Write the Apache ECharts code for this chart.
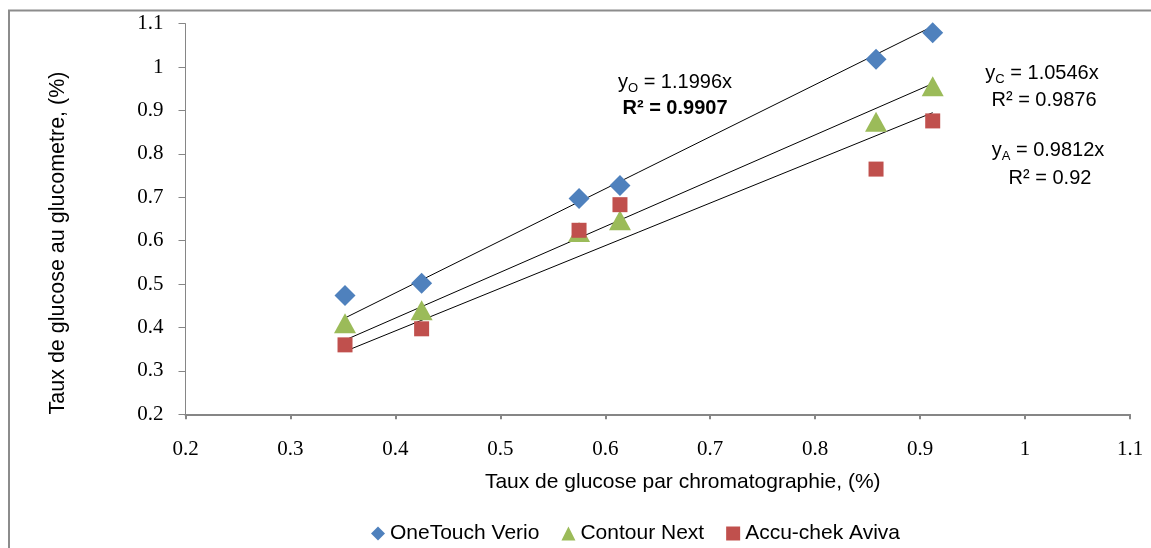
<!DOCTYPE html>
<html>
<head>
<meta charset="utf-8">
<script src="https://cdn.jsdelivr.net/npm/echarts@6/dist/echarts.min.js"></script>
<style>
  html, body { margin: 0; padding: 0; background: #fff; }
  #chart { width: 1151px; height: 548px; }
</style>
</head>
<body>
<div id="chart"></div>
<script>
  // chromatography values (x) shared by the three meters
  const chromX = [0.352, 0.425, 0.575, 0.614, 0.858, 0.912]
  const oneTouch = [0.474, 0.502, 0.697, 0.727, 1.018, 1.079]
  const contour = [0.410, 0.440, 0.620, 0.647, 0.874, 0.956]
  const accuChek = [0.360, 0.397, 0.624, 0.683, 0.765, 0.876]
  // trend line end points
  const trendO = [[0.352, 0.422], [0.912, 1.094]]
  const trendC = [[0.352, 0.371], [0.912, 0.962]]
  const trendA = [[0.352, 0.345], [0.912, 0.895]]
  const seriesNames = ['OneTouch Verio', 'Contour Next', 'Accu-chek Aviva']

  function pairs(ys) {
    return chromX.map((x, i) => [x, ys[i]])
  }

  const chart = echarts.init(document.getElementById('chart'))
  const serif = 'Liberation Serif'
  const sans = 'Liberation Sans'

  function trend(data) {
    return {
      type: 'line',
      data: data,
      showSymbol: false,
      silent: true,
      lineStyle: { color: '#000', width: 1 },
      z: 1,
    }
  }

  // equation labels (y with a subscript letter)
  const eqText = (x, y, sub, main) => ({
    type: 'text',
    x: x,
    y: y,
    style: {
      text: '{a|y}{s|' + sub + '}{a| ' + main + '}',
      textAlign: 'center',
      textVerticalAlign: 'middle',
      rich: {
        a: { fontFamily: sans, fontSize: 20, fill: '#000' },
        s: { fontFamily: sans, fontSize: 13, fill: '#000', padding: [12, 0, 0, 0] },
      },
    },
  })
  const r2Text = (x, y, txt, bold) => ({
    type: 'text',
    x: x,
    y: y,
    style: {
      text: txt,
      textAlign: 'center',
      textVerticalAlign: 'middle',
      fontFamily: sans,
      fontSize: 20,
      fontWeight: bold ? 'bold' : 'normal',
      fill: '#000',
    },
  })

  const option = {
    animation: false,
    backgroundColor: '#fff',
    grid: { left: 185.5, right: 21, top: 23.7, bottom: 133.7 },
    legend: {
      data: [
        { name: seriesNames[0], icon: 'diamond' },
        { name: seriesNames[1], icon: 'triangle' },
        { name: seriesNames[2], icon: 'rect' },
      ],
      top: 518,
      left: 366,
      itemWidth: 14,
      itemHeight: 14,
      itemGap: 22,
      textStyle: { fontFamily: sans, fontSize: 21, color: '#000' },
    },
    xAxis: {
      type: 'value',
      min: 0.2,
      max: 1.1,
      interval: 0.1,
      name: 'Taux de glucose par chromatographie, (%)',
      nameLocation: 'middle',
      nameGap: 57,
      nameTextStyle: { fontFamily: sans, fontSize: 21, color: '#000', padding: [0, 0, 0, 50] },
      axisLine: { onZero: false, lineStyle: { color: '#868686', width: 2 } },
      axisTick: { length: 5, lineStyle: { color: '#868686', width: 2 } },
      axisLabel: { fontFamily: serif, fontSize: 21, color: '#000', margin: 25 },
      splitLine: { show: false },
    },
    yAxis: {
      type: 'value',
      min: 0.2,
      max: 1.1,
      interval: 0.1,
      axisLine: { show: true, onZero: false, lineStyle: { color: '#868686', width: 1 } },
      axisTick: { show: true, length: 7, lineStyle: { color: '#868686' } },
      axisLabel: { fontFamily: serif, fontSize: 21, color: '#000', margin: 22 },
      splitLine: { show: false },
    },
    series: [
      trend(trendO),
      trend(trendC),
      trend(trendA),
      {
        name: seriesNames[0],
        type: 'scatter',
        symbol: 'diamond',
        symbolSize: [21, 21],
        itemStyle: { color: '#4F81BD', opacity: 1 },
        data: pairs(oneTouch),
        z: 3,
      },
      {
        name: seriesNames[1],
        type: 'scatter',
        symbol: 'triangle',
        symbolSize: [22, 20],
        itemStyle: { color: '#9BBB59', opacity: 1 },
        data: pairs(contour),
        z: 2,
      },
      {
        name: seriesNames[2],
        type: 'scatter',
        symbol: 'rect',
        symbolSize: [15, 15],
        itemStyle: { color: '#C0504D', opacity: 1 },
        data: pairs(accuChek),
        z: 4,
      },
    ],
    graphic: [
      {
        type: 'polyline',
        shape: { points: [[9, 548], [9, 10.5], [1151, 10.5]] },
        style: { stroke: '#8c8c8c', lineWidth: 2, fill: null },
        silent: true,
      },
      {
        type: 'text',
        x: 58,
        y: 243,
        rotation: Math.PI / 2,
        style: {
          text: 'Taux de glucose au glucometre, (%)',
          textAlign: 'center',
          textVerticalAlign: 'middle',
          fontFamily: sans,
          fontSize: 21.5,
          fill: '#000',
        },
      },
      eqText(675, 82, 'O', '= 1.1996x'),
      r2Text(675, 108, 'R² = 0.9907', true),
      eqText(1042, 73, 'C', '= 1.0546x'),
      r2Text(1044, 100, 'R² = 0.9876', false),
      eqText(1048, 150, 'A', '= 0.9812x'),
      r2Text(1050, 178, 'R² = 0.92', false),
    ],
  }
  chart.setOption(option)
</script>
</body>
</html>
